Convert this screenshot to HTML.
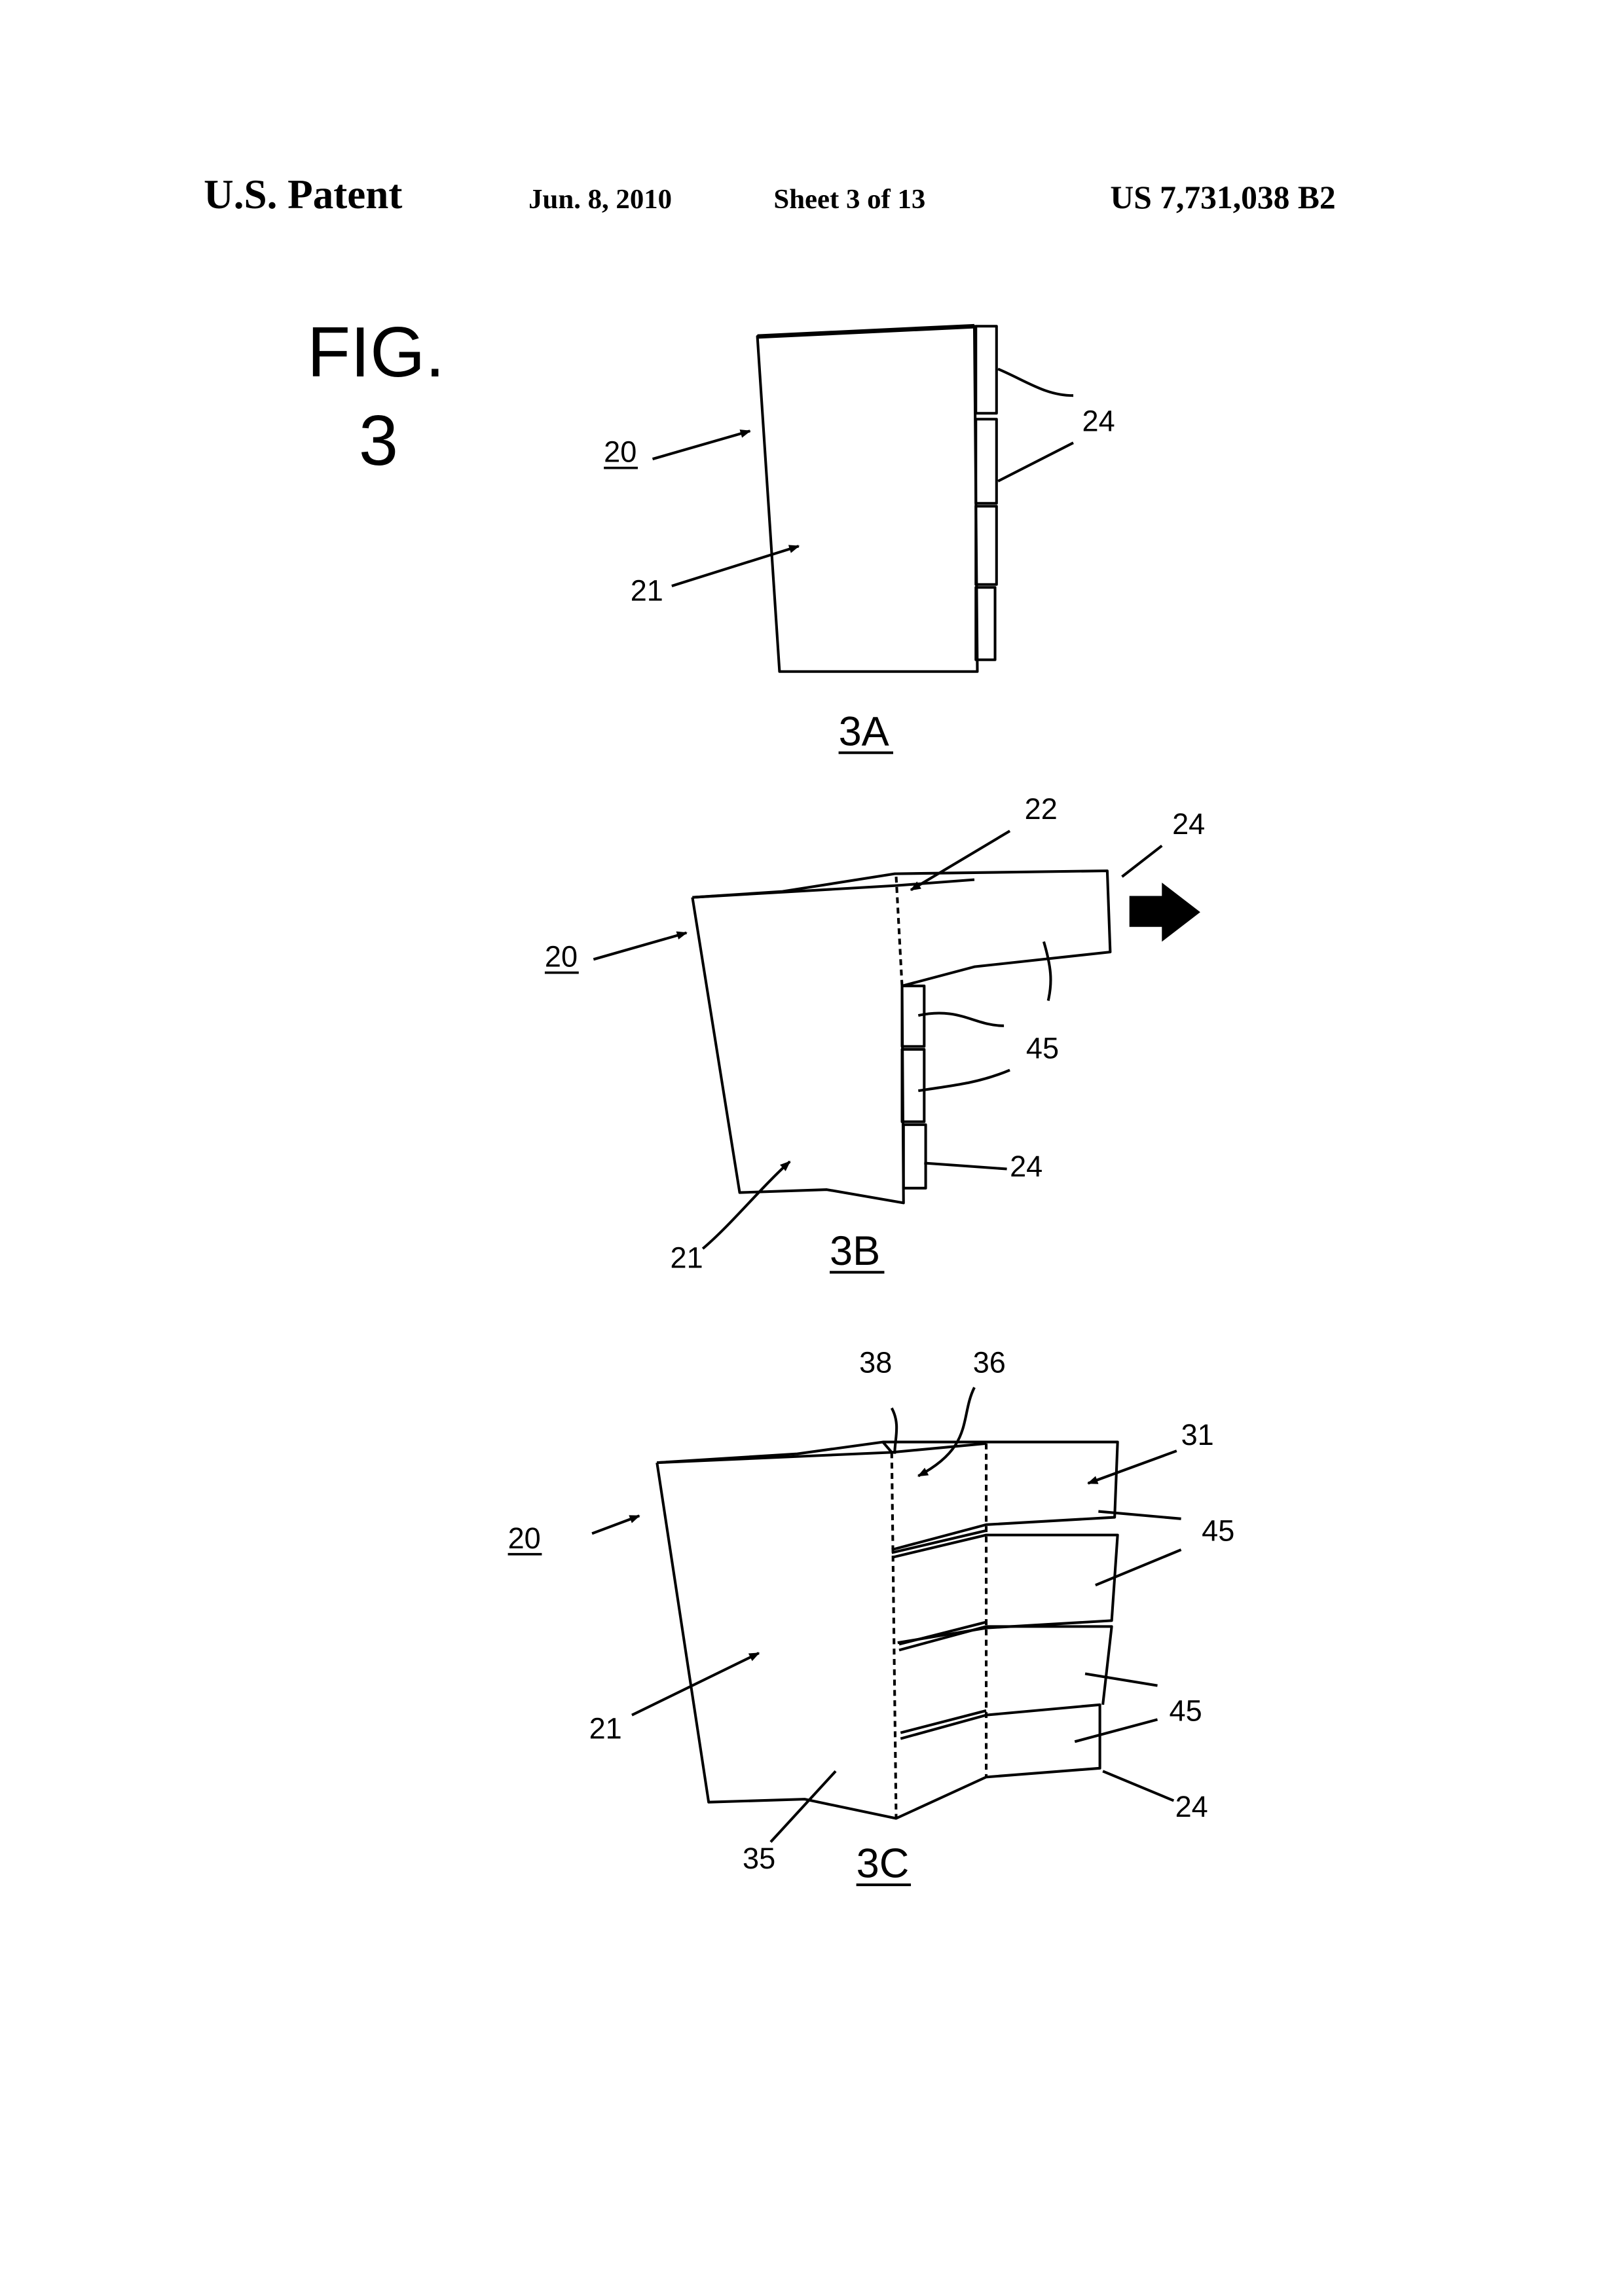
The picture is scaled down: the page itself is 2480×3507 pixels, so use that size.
<!DOCTYPE html>
<html><head><meta charset="utf-8"><style>
html,body{margin:0;padding:0;background:#fff;}
svg{display:block;}
text{font-family:"Liberation Sans",sans-serif;fill:#000;}
.s{font-family:"Liberation Serif",serif;font-weight:bold;}
</style></head><body>
<svg width="2480" height="3507" viewBox="0 0 1100 1555.6" xmlns="http://www.w3.org/2000/svg">
<defs><marker id="a" viewBox="0 0 10 10" refX="9" refY="5" markerWidth="4" markerHeight="4" orient="auto"><path d="M0,1 L10,5 L0,9 Z" fill="#000"/></marker></defs>
<rect width="1100" height="1556" fill="#fff"/>
<text class="s" x="138" y="141" font-size="28">U.S. Patent</text>
<text class="s" x="358" y="141" font-size="19">Jun. 8, 2010</text>
<text class="s" x="524" y="141" font-size="19">Sheet 3 of 13</text>
<text class="s" x="752" y="141" font-size="22">US 7,731,038 B2</text>
<text x="208" y="255" font-size="48">FIG.</text>
<text x="243" y="315" font-size="48">3</text>
<g fill="none" stroke="#000" stroke-width="1.8" stroke-linejoin="round">
<!-- 3A -->
<polygon points="513,228 660,221 662,455 528,455"/>
<line x1="513" y1="228" x2="660" y2="221" stroke-width="3"/>
<rect x="661" y="221" width="14" height="59"/><rect x="661" y="284" width="14" height="57"/>
<rect x="661" y="343" width="14" height="53"/><rect x="661" y="398" width="13" height="49"/>
<path d="M676,250 C695,258 708,268 727,268"/><path d="M676,326 L727,300"/>
<line x1="442" y1="311" x2="508" y2="292" marker-end="url(#a)"/>
<line x1="455" y1="397" x2="541" y2="370" marker-end="url(#a)"/>
<!-- 3B -->
<polyline points="469,608 530,604 606,592 750,590 752,645 660,655 611,668"/>
<polyline points="469,608 607,600 660,596"/>
<line x1="607" y1="594" x2="611" y2="668" stroke-dasharray="4,3"/>
<polyline points="469,608 501,808 560,806 612,815 611,668"/>
<rect x="611" y="668" width="15" height="41"/><rect x="611" y="711" width="15" height="49"/><rect x="612" y="762" width="15" height="43"/>
<line x1="684" y1="563" x2="617" y2="603" marker-end="url(#a)"/>
<line x1="787" y1="573" x2="760" y2="594"/>
<line x1="402" y1="650" x2="465" y2="632" marker-end="url(#a)"/>
<path d="M622,688 C650,682 660,695 680,695"/><path d="M622,739 C650,735 665,733 684,725"/>
<path d="M707,638 C712,655 713,665 710,678"/>
<line x1="626" y1="788" x2="682" y2="792"/>
<path d="M476,846 C495,830 515,805 535,787" marker-end="url(#a)"/>
<!-- 3C -->
<polyline points="445,991 540,985 598,977 757,977 755,1028 668,1033 604,1050"/>
<polyline points="445,991 604,984 668,978"/>
<line x1="598" y1="977" x2="604" y2="984"/>
<polyline points="605,1055 668,1040 757,1040 753,1098 668,1103 608,1113"/>
<polyline points="604,1052 668,1037"/>
<polyline points="609,1118 668,1102 753,1102 747,1155"/>
<polyline points="609,1114 668,1099"/>
<polyline points="610,1178 668,1162 745,1155 745,1198 668,1204 607,1232 545,1219 480,1221 445,991"/>
<polyline points="610,1174 668,1159"/>
<line x1="604" y1="984" x2="607" y2="1232" stroke-dasharray="4,3"/>
<line x1="668" y1="978" x2="668" y2="1204" stroke-dasharray="4,3"/>
<path d="M604,954 C610,965 606,975 606,985"/>
<path d="M660,940 C650,960 660,980 622,1000" marker-end="url(#a)"/>
<line x1="797" y1="983" x2="737" y2="1005" marker-end="url(#a)"/>
<line x1="744" y1="1024" x2="800" y2="1029"/><line x1="742" y1="1074" x2="800" y2="1050"/>
<line x1="735" y1="1134" x2="784" y2="1142"/><line x1="728" y1="1180" x2="784" y2="1165"/>
<line x1="747" y1="1200" x2="795" y2="1220"/>
<line x1="401" y1="1039" x2="433" y2="1027" marker-end="url(#a)"/>
<line x1="428" y1="1162" x2="514" y2="1120" marker-end="url(#a)"/>
<line x1="522" y1="1248" x2="566" y2="1200"/>
</g>
<path d="M765,607 H787 V598 L813,618 L787,638 V628 H765 Z" fill="#000"/>
<g font-size="20">
<text x="733" y="292">24</text><text x="409" y="313">20</text><text x="427" y="407">21</text>
<text x="694" y="555">22</text><text x="794" y="565">24</text><text x="369" y="655">20</text>
<text x="695" y="717">45</text><text x="684" y="797">24</text><text x="454" y="859">21</text>
<text x="582" y="930">38</text><text x="659" y="930">36</text><text x="800" y="979">31</text>
<text x="814" y="1044">45</text><text x="792" y="1166">45</text><text x="796" y="1231">24</text>
<text x="344" y="1049">20</text><text x="399" y="1178">21</text><text x="503" y="1266">35</text>
</g>
<g stroke="#000" stroke-width="1.6">
<line x1="409" y1="317" x2="432" y2="317"/><line x1="369" y1="659" x2="392" y2="659"/><line x1="344" y1="1053" x2="367" y2="1053"/>
</g>
<g font-size="28">
<text x="568" y="505">3A</text><text x="562" y="857">3B</text><text x="580" y="1272">3C</text>
</g>
<g stroke="#000" stroke-width="1.8">
<line x1="568" y1="510" x2="605" y2="510"/><line x1="562" y1="862" x2="599" y2="862"/><line x1="580" y1="1277" x2="617" y2="1277"/>
</g>
</svg>
</body></html>
